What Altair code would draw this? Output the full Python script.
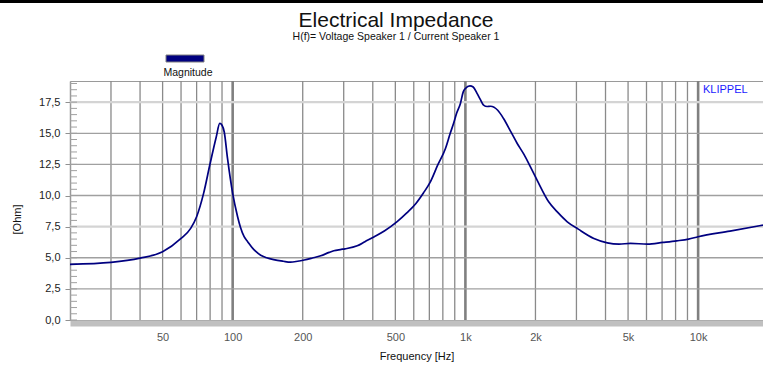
import altair as alt
import pandas as pd

# ---- data ----
freq = [20, 30, 40, 50, 60, 66, 70, 75, 80, 85, 88, 90, 92, 95, 100, 105, 108, 112, 116, 122, 125,
        132, 140, 150, 165, 177, 190, 203, 220, 239, 260, 272, 290, 304, 343, 370, 406, 450, 509,
        560, 613, 660, 707, 760, 821, 860, 890, 916, 952, 979, 1000, 1046, 1080, 1122, 1160, 1197,
        1240, 1283, 1377, 1458, 1569, 1670, 1785, 1903, 2032, 2279, 2500, 2740, 3055, 3566, 4072,
        4575, 5120, 6061, 7050, 8100, 9100, 10000, 13700, 19000]
impedance = [4.47, 4.63, 4.97, 5.48, 6.55, 7.36, 8.3, 10.17, 12.57, 14.7, 15.8, 15.65, 15.1,
             13.0, 10.17, 8.3, 7.45, 6.69, 6.29, 5.75, 5.55, 5.2, 5.0, 4.85, 4.72, 4.65, 4.72, 4.82,
             4.98, 5.16, 5.43, 5.56, 5.66, 5.72, 5.96, 6.29, 6.69, 7.17, 7.9, 8.6, 9.36, 10.2, 11.1,
             12.44, 13.78, 14.98, 15.8, 16.59, 17.4, 18.33, 18.6, 18.81, 18.72, 18.2, 17.7, 17.26,
             17.15, 17.17, 16.85, 16.19, 15.11, 14.18, 13.3, 12.3, 11.24, 9.5, 8.62, 7.89, 7.3, 6.55,
             6.2, 6.1, 6.15, 6.1, 6.23, 6.36, 6.5, 6.69, 7.14, 7.62]

grid_minor = [30, 40, 50, 60, 70, 80, 90, 200, 300, 400, 500, 600, 700, 800, 900,
              2000, 3000, 4000, 5000, 6000, 7000, 8000, 9000]
grid_decade = [100, 1000, 10000]
x_labels = [50, 100, 200, 500, 1000, 2000, 5000, 10000]
y_labels = [0, 2.5, 5, 7.5, 10, 12.5, 15, 17.5]
y_grid_dark = [2.5, 5, 10, 12.5, 15]
y_grid_light = [7.5, 17.5]
y_minor = [v / 2 for v in range(0, 39)]

title_text = ["Electrical Impedance"]
subtitle_text = ["H(f)= Voltage Speaker 1 / Current Speaker 1"]
legend_text = ["Magnitude"]
brand_text = ["KLIPPEL"]

W, H = 693, 239
FONT = "Liberation Sans"

xscale = alt.Scale(type="log", domain=[20, 19000], nice=False)
yscale = alt.Scale(domain=[0, 19.2], nice=False, zero=False)

xaxis = alt.Axis(
    values=x_labels,
    labelExpr="datum.value >= 1000 ? (datum.value / 1000) + 'k' : '' + datum.value",
    title="Frequency [Hz]", grid=False, ticks=False, tickSize=0,
    domain=True, domainColor="#c0c0c0", domainWidth=6, offset=3,
    labelPadding=8, labelFontSize=11, labelColor="#555555", labelFont=FONT,
    titleFont=FONT, titleFontSize=11, titleFontWeight="normal", titleColor="#111111",
    titlePadding=8,
)
yaxis = alt.Axis(
    values=y_labels,
    labelExpr="replace(format(datum.value, '.1f'), '.', ',')",
    title="[Ohm]", grid=False, ticks=True, tickSize=5, tickColor="#909090",
    domain=True, domainColor="#9a9a9a", domainWidth=1.5,
    labelPadding=5, labelFontSize=11, labelColor="#222222", labelFont=FONT,
    titleFont=FONT, titleFontSize=11, titleFontWeight="normal", titleColor="#111111",
    titleX=-53, titleY=138, titleAlign="center", titleBaseline="middle",
)

X = lambda: alt.X("f:Q", scale=xscale, axis=xaxis)
Y = lambda: alt.Y("z:Q", scale=yscale, axis=yaxis)

df = pd.DataFrame({"f": freq, "z": impedance})

axes_holder = alt.Chart(df).mark_line(opacity=0).encode(x=X(), y=Y())
line = alt.Chart(df).mark_line(color="#000080", strokeWidth=1.7, interpolate="monotone").encode(
    x=X(), y=Y())
vminor = alt.Chart(pd.DataFrame({"f": grid_minor})).mark_rule(
    color="#8a8a8a", strokeWidth=1.3).encode(x=X())
vdecade = alt.Chart(pd.DataFrame({"f": grid_decade})).mark_rule(
    color="#808080", strokeWidth=2.6).encode(x=X())
hdark = alt.Chart(pd.DataFrame({"z": y_grid_dark})).mark_rule(
    color="#a0a0a0", strokeWidth=1.3).encode(y=Y())
hlight = alt.Chart(pd.DataFrame({"z": y_grid_light})).mark_rule(
    color="#d4d4d4", strokeWidth=2.2).encode(y=Y())
minor_ticks = alt.Chart(pd.DataFrame({"z": y_minor})).mark_rule(
    color="#a0a0a0", strokeWidth=1).encode(y=Y(), x=alt.value(0), x2=alt.value(7))

top_bar = alt.Chart(pd.DataFrame({"t": title_text})).mark_rule(
    color="black", strokeWidth=3).encode(
    x=alt.value(-70), x2=alt.value(W), y=alt.value(-79.5))

title = alt.Chart(pd.DataFrame({"t": title_text})).mark_text(
    font=FONT, fontSize=21, align="center", baseline="alphabetic", color="#111111").encode(
    text="t:N", x=alt.value(326), y=alt.value(-54.5))
subtitle = alt.Chart(pd.DataFrame({"t": subtitle_text})).mark_text(
    font=FONT, fontSize=10.5, align="center", baseline="alphabetic", color="#111111").encode(
    text="t:N", x=alt.value(326), y=alt.value(-41))

legend_rect = alt.Chart(pd.DataFrame({"t": legend_text})).mark_rect(
    color="#000080", stroke="#808080", strokeWidth=1).encode(
    x=alt.value(96), x2=alt.value(134), y=alt.value(-26), y2=alt.value(-19))
legend_label = alt.Chart(pd.DataFrame({"t": legend_text})).mark_text(
    font=FONT, fontSize=10.5, align="center", baseline="alphabetic", color="#111111").encode(
    text="t:N", x=alt.value(118), y=alt.value(-5))
brand = alt.Chart(pd.DataFrame({"t": brand_text})).mark_text(
    font=FONT, fontSize=11, align="left", baseline="alphabetic", color="#1a1aff").encode(
    text="t:N", x=alt.value(633), y=alt.value(12))

chart = alt.layer(
    axes_holder, vminor, vdecade, hdark, hlight, minor_ticks, line,
    top_bar, title, subtitle, legend_rect, legend_label, brand,
).properties(
    width=W, height=H,
    padding={"left": 70, "top": 81, "right": 0, "bottom": 50},
    autosize=alt.AutoSizeParams(type="none"),
    background="white",
).configure_view(stroke="#9a9a9a", strokeWidth=1)

chart.save("out.html", embed_options={"renderer": "svg", "actions": False})
